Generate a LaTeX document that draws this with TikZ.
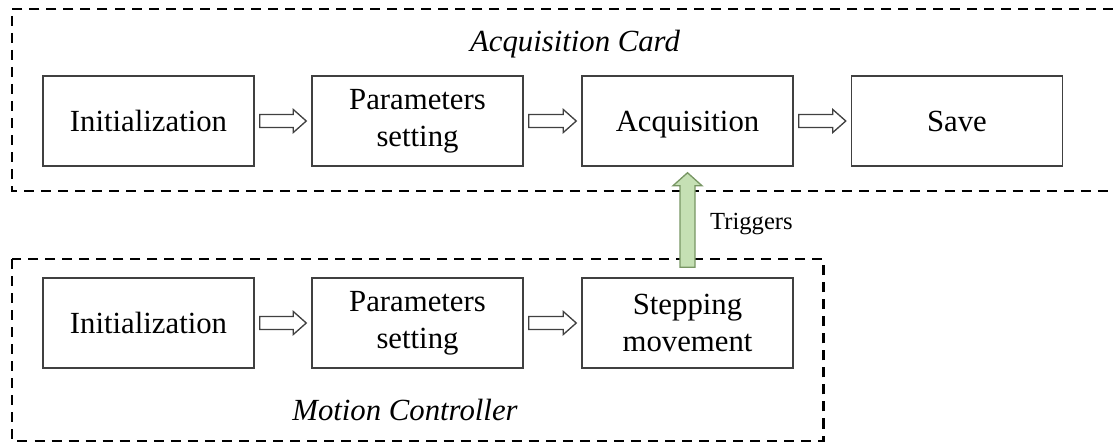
\documentclass[tikz,border=0pt]{standalone}
\usepackage{fontspec}
\setmainfont{Liberation Serif}
\usetikzlibrary{calc}

\definecolor{boxline}{RGB}{64,64,64}
\definecolor{trigfill}{RGB}{197,224,180}
\definecolor{trigline}{RGB}{120,150,100}

% seta vazada entre dois blocos
\newcommand{\hollowarrow}[2]{%
  \draw[hollow] ($(#1.east)+(5,-6.5)$) -- ($(#2.west)+(-18,-6.5)$)
    -- ($(#2.west)+(-18,-11.5)$) -- ($(#2.west)+(-5,0)$)
    -- ($(#2.west)+(-18,11.5)$) -- ($(#2.west)+(-18,6.5)$)
    -- ($(#1.east)+(5,6.5)$) -- cycle;}

\begin{document}
\begin{tikzpicture}[
  x=0.02cm, y=-0.02cm,
  block/.style={draw=boxline, line width=0.85pt, minimum width=4.22cm,
    minimum height=1.8cm, align=center, inner sep=0pt,
    font=\fontsize{17.5}{21}\selectfont},
  group/.style={line width=1.7pt, dash pattern=on 5.7pt off 4pt},
  hollow/.style={draw=boxline, line width=0.75pt, fill=white},
  trigarrow/.style={draw=trigline, line width=0.75pt, fill=trigfill},
  caption/.style={font=\fontsize{17.5}{21}\selectfont\itshape},
  every node/.style={font=\fontsize{17.5}{21}\selectfont}
]
\useasboundingbox (0,0) rectangle (1113,443);

% Parâmetros gerais
\def\rowA{121}   % linha da placa de aquisição
\def\rowB{323}   % linha do controlador

% ==========================================================
% Placa de aquisição
% ==========================================================
\draw[group] (1113,9) -- (12,9) -- (12,191) -- (1113,191);
\node[caption] (cardlbl) at (575,44) {Acquisition Card};

\node[block] (initA) at (148.5,\rowA) {Initialization};
\node[block] (paramA) at (417.5,\rowA) {Parameters\\setting};
\node[block, text depth=0pt] (acq) at (687.5,\rowA) {Acquisition};
\node[block] (save) at (957,\rowA) {Save};

\hollowarrow{initA}{paramA}
\hollowarrow{paramA}{acq}
\hollowarrow{acq}{save}

% ==========================================================
% Controlador de movimento
% ==========================================================
\draw[group] (12,259) rectangle (823,441);
\node[caption] (motionlbl) at (405,410) {Motion Controller};

\node[block] (initB) at (148.5,\rowB) {Initialization};
\node[block] (paramB) at (417.5,\rowB) {Parameters\\setting};
\node[block] (step) at (687.5,\rowB) {Stepping\\movement};

\hollowarrow{initB}{paramB}
\hollowarrow{paramB}{step}

% ==========================================================
% Disparo
% ==========================================================
\draw[trigarrow] ($(step.north)+(-7.5,-10)$) -- ($(acq.south)+(-7.5,19)$)
  -- ($(acq.south)+(-14.5,19)$) -- ($(acq.south)+(0,6)$)
  -- ($(acq.south)+(14.5,19)$) -- ($(acq.south)+(7.5,19)$)
  -- ($(step.north)+(7.5,-10)$) -- cycle;
\node[anchor=west, font=\fontsize{14}{16}\selectfont] (trig) at (704,224) {Triggers};

\end{tikzpicture}
\end{document}
